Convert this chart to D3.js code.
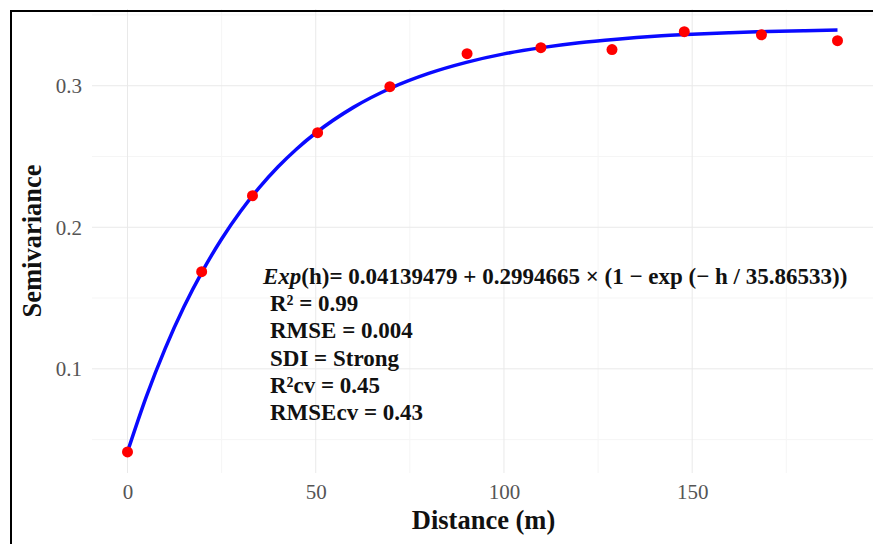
<!DOCTYPE html>
<html lang="en">
<head>
    <meta charset="UTF-8">
    <title>Semivariogram - exponential model</title>
    <script src="https://d3js.org/d3.v7.min.js"></script>
    <style>
        body {
            margin: 0;
            background-color: white;
            font-family: "Liberation Serif", "DejaVu Serif", serif;
        }
        .tick text {
            font-family: "Liberation Serif", serif;
            font-size: 21px;
            fill: #555;
        }
    </style>
</head>
<body>
    <div id="chart"></div>

    <script>
        // empirical semivariogram (distance in m, semivariance)
        const distance = [0, 19.7, 33.2, 50.5, 69.7, 90.2, 109.8, 128.7, 147.9, 168.4, 188.6];
        const semivariance = [0.0413, 0.1686, 0.2223, 0.2668, 0.2993, 0.3226, 0.3269, 0.3255, 0.3382, 0.3360, 0.3318];

        // fitted exponential model
        const fitDistance = [0, 5, 10, 15, 20, 25, 30, 35, 40, 45, 50, 60, 70, 80, 90, 100, 110, 120, 130, 140, 150, 160, 170, 180, 188.6];
        const fitValue = [0.0414, 0.0804, 0.1143, 0.1438, 0.1694, 0.1917, 0.2111, 0.2280, 0.2427, 0.2555, 0.2666, 0.2847, 0.2984, 0.3087, 0.3165, 0.3225, 0.3269, 0.3304, 0.3329, 0.3349, 0.3363, 0.3374, 0.3383, 0.3389, 0.3393];

        const xTicks = [0, 50, 100, 150];
        const yTicks = [0.1, 0.2, 0.3];
        const xMinor = [25, 75, 125, 175];
        const yMinor = [0.05, 0.15, 0.25, 0.35];

        const annotation = [
            { parts: [["Exp", "italic"], ["(h)= 0.04139479 + 0.2994665 \u00d7 (1 \u2212 exp (\u2212 h / 35.86533))", "normal"]], indent: 0 },
            { parts: [["R\u00b2 = 0.99", "normal"]], indent: 7 },
            { parts: [["RMSE = 0.004", "normal"]], indent: 7 },
            { parts: [["SDI = Strong", "normal"]], indent: 7 },
            { parts: [["R\u00b2cv = 0.45", "normal"]], indent: 7 },
            { parts: [["RMSEcv = 0.43", "normal"]], indent: 7 }
        ];

        const width = 873;
        const height = 544;
        const panel = { left: 92, right: 873, top: 9, bottom: 473 };

        const svg = d3.select("#chart")
            .append("svg")
            .attr("width", width)
            .attr("height", height)
            .style("display", "block");

        // ggplot-like 5% expansion of the data range
        const expand = (lo, hi) => { const p = (hi - lo) * 0.05; return [lo - p, hi + p]; };
        const xExt = d3.extent(distance.concat(fitDistance));
        const yExt = d3.extent(semivariance.concat(fitValue));

        const x = d3.scaleLinear().domain(expand(xExt[0], xExt[1])).range([panel.left, panel.right]);
        const y = d3.scaleLinear().domain(expand(yExt[0], yExt[1])).range([panel.bottom, panel.top]);

        const grid = svg.append("g");
        // minor grid
        grid.selectAll(".xminor").data(xMinor).enter().append("line")
            .attr("x1", d => x(d)).attr("x2", d => x(d))
            .attr("y1", panel.top).attr("y2", panel.bottom)
            .attr("stroke", "#f5f5f5").attr("stroke-width", 1);
        grid.selectAll(".yminor").data(yMinor.filter(d => y(d) > panel.top)).enter().append("line")
            .attr("x1", panel.left).attr("x2", panel.right)
            .attr("y1", d => y(d)).attr("y2", d => y(d))
            .attr("stroke", "#f5f5f5").attr("stroke-width", 1);
        // major grid
        grid.selectAll(".xmajor").data(xTicks).enter().append("line")
            .attr("x1", d => x(d)).attr("x2", d => x(d))
            .attr("y1", panel.top).attr("y2", panel.bottom)
            .attr("stroke", "#e9e9e9").attr("stroke-width", 1);
        grid.selectAll(".ymajor").data(yTicks).enter().append("line")
            .attr("x1", panel.left).attr("x2", panel.right)
            .attr("y1", d => y(d)).attr("y2", d => y(d))
            .attr("stroke", "#e9e9e9").attr("stroke-width", 1);

        // axes (labels only)
        const xAxis = svg.append("g")
            .attr("transform", `translate(0,${panel.bottom})`)
            .call(d3.axisBottom(x).tickValues(xTicks).tickSize(0).tickPadding(11).tickFormat(d3.format("d")));
        xAxis.select(".domain").remove();

        const yAxis = svg.append("g")
            .attr("transform", `translate(${panel.left},0)`)
            .call(d3.axisLeft(y).tickValues(yTicks).tickSize(0).tickPadding(10).tickFormat(d3.format(".1f")));
        yAxis.select(".domain").remove();

        // fitted curve
        const line = d3.line()
            .x((d, i) => x(fitDistance[i]))
            .y(d => y(d))
            .curve(d3.curveMonotoneX);

        svg.append("path")
            .datum(fitValue)
            .attr("d", line)
            .attr("fill", "none")
            .attr("stroke", "#0a0aff")
            .attr("stroke-width", 3.5);

        // points
        svg.selectAll(".pt")
            .data(distance)
            .enter()
            .append("circle")
            .attr("cx", d => x(d))
            .attr("cy", (d, i) => y(semivariance[i]))
            .attr("r", 5.5)
            .attr("fill", "#ff0000");

        // annotation
        const ann = svg.append("text")
            .attr("font-family", "Liberation Serif, serif")
            .attr("font-weight", "bold")
            .attr("font-size", 23)
            .attr("fill", "#111");
        annotation.forEach((row, i) => {
            row.parts.forEach((p, j) => {
                const t = ann.append("tspan").text(p[0]).attr("font-style", p[1]);
                if (j === 0) t.attr("x", 263 + row.indent).attr("y", 284 + i * 27.2);
            });
        });

        // axis titles
        svg.append("text")
            .attr("x", (panel.left + panel.right) / 2 + 1)
            .attr("y", 529)
            .attr("text-anchor", "middle")
            .attr("font-family", "Liberation Serif, serif")
            .attr("font-weight", "bold")
            .attr("font-size", 26.5)
            .attr("fill", "#111")
            .text("Distance (m)");

        svg.append("text")
            .attr("transform", `translate(41,${(panel.top + panel.bottom) / 2})rotate(-90)`)
            .attr("text-anchor", "middle")
            .attr("font-family", "Liberation Serif, serif")
            .attr("font-weight", "bold")
            .attr("font-size", 26.5)
            .attr("fill", "#111")
            .text("Semivariance");

        // outer frame (cropped on right and bottom)
        svg.append("path")
            .attr("d", `M11,${height} V11 H${width}`)
            .attr("fill", "none")
            .attr("stroke", "#000")
            .attr("stroke-width", 2);
    </script>
</body>
</html>
